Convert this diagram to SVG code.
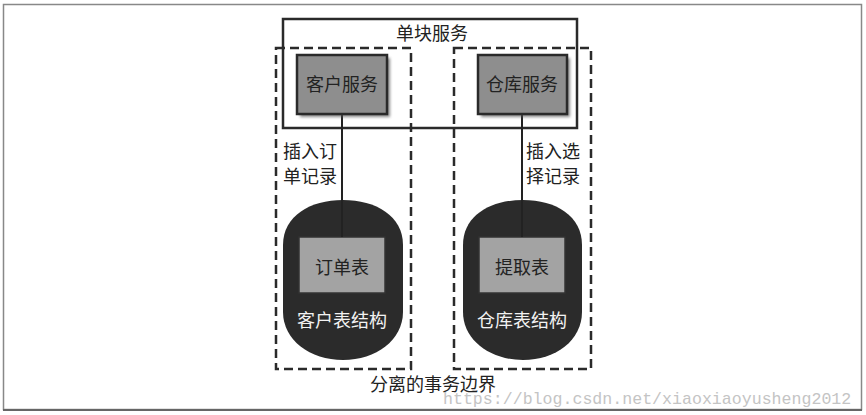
<svg xmlns="http://www.w3.org/2000/svg" width="866" height="415" viewBox="0 0 866 415">
<defs>
<style>
.t{font-family:"Noto Sans CJK SC","Liberation Serif",serif;font-size:18px;fill:#222;text-anchor:middle}
.tw{font-family:"Noto Sans CJK SC","Liberation Serif",serif;font-size:18px;fill:#f2f2f2;text-anchor:middle}
.dash{fill:none;stroke:#2a2a2a;stroke-width:2.5;stroke-dasharray:9 5}
.svc{fill:#8e8e8e;stroke:#2a2a2a;stroke-width:2.5}
.shadow{fill:#555;opacity:0.7}
.db{fill:#2b2b2b}
.tbl{fill:#a3a3a3;stroke:#333;stroke-width:1.5}
.conn{stroke:#222;stroke-width:2;fill:none}
</style>
<filter id="blur" x="-10%" y="-10%" width="130%" height="130%"><feGaussianBlur stdDeviation="1.5"/></filter>
</defs>
<rect x="3.5" y="4.5" width="858" height="405" fill="#fff" stroke="#888" stroke-width="1.5"/>
<line x1="3" y1="410" x2="862" y2="410" stroke="#666" stroke-width="2"/>

<g id="monolith">
<rect x="283" y="19" width="294" height="109" fill="none" stroke="#2a2a2a" stroke-width="2.5"/>
<text class="t" x="432" y="40">单块服务</text>
</g>

<g id="boundary-left">
<rect class="dash" x="276" y="48" width="135" height="321"/>
</g>
<g id="boundary-right">
<rect class="dash" x="454" y="48" width="137" height="321"/>
</g>

<g id="connectors">
<line class="conn" x1="342" y1="114" x2="342" y2="205"/>
<line class="conn" x1="522" y1="114" x2="522" y2="205"/>
</g>

<g id="customer-service">
<rect class="shadow" x="300" y="58" width="90" height="59" filter="url(#blur)"/>
<rect class="svc" x="297" y="55" width="90" height="59"/>
<text class="t" x="342" y="91">客户服务</text>
</g>
<g id="warehouse-service">
<rect class="shadow" x="481" y="58" width="89" height="59" filter="url(#blur)"/>
<rect class="svc" x="478" y="55" width="89" height="59"/>
<text class="t" x="522" y="91">仓库服务</text>
</g>

<g id="label-left">
<text class="t" x="310" y="158">插入订</text>
<text class="t" x="310" y="183">单记录</text>
</g>
<g id="label-right">
<text class="t" x="553" y="158">插入选</text>
<text class="t" x="553" y="183">择记录</text>
</g>

<g id="customer-db">
<path class="db" d="M283,245 C283,216 310,200 343,200 C376,200 403,216 403,245 L403,312 C403,340 376,360 343,360 C310,360 283,340 283,312 Z"/>
<rect class="tbl" x="299" y="237" width="86" height="56"/>
<line class="conn" x1="342" y1="200" x2="342" y2="237"/>
<text class="t" x="342" y="274">订单表</text>
<text class="tw" x="342" y="327">客户表结构</text>
</g>
<g id="warehouse-db">
<path class="db" d="M463,245 C463,216 490,200 523,200 C556,200 582,216 582,245 L582,312 C582,340 556,360 523,360 C490,360 463,340 463,312 Z"/>
<rect class="tbl" x="479" y="237" width="86" height="56"/>
<line class="conn" x1="522" y1="200" x2="522" y2="237"/>
<text class="t" x="522" y="274">提取表</text>
<text class="tw" x="522" y="327">仓库表结构</text>
</g>

<text class="t" x="433" y="391">分离的事务边界</text>
<text x="443" y="404" font-family="Liberation Mono, monospace" font-size="16.6" fill="#c4c4c4">https://blog.csdn.net/xiaoxiaoyusheng2012</text>
</svg>
